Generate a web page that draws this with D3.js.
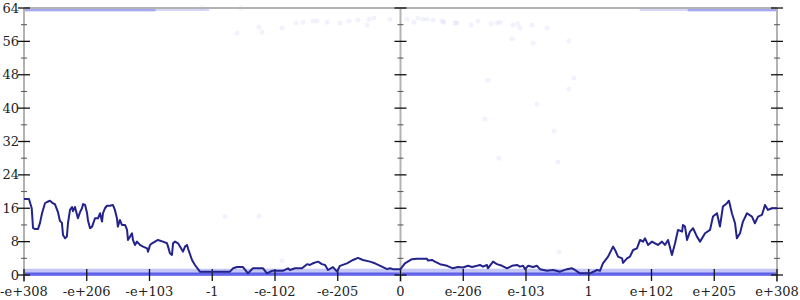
<!DOCTYPE html>
<html>
<head>
<meta charset="utf-8">
<script src="https://cdn.jsdelivr.net/npm/d3@7/dist/d3.min.js"></script>
<style>
  body { margin: 0; background: #fff; }
  text { font-family: "DejaVu Serif", serif; font-size: 13px; fill: #222; }
</style>
</head>
<body>
<div id="chart-area"></div>
<script>
// x is the signed exponent order of a double: -2046 .. 0 .. 2046
var tickValues = [-2046, -1705, -1364, -1023, -682, -341, 0, 341, 682, 1023, 1364, 1705, 2046];
var tickLabels = ["-e+308", "-e+206", "-e+103", "-1", "-e-102", "-e-205", "0",
                  "e-206", "e-103", "1", "e+102", "e+205", "e+308"];
var yTicks = [0, 8, 16, 24, 32, 40, 48, 56, 64];
var yMinor = [4, 12, 20, 28, 36, 44, 52, 60];

// smoothed line
var lineX = [-2046,-2019,-2004,-1997,-1986,-1970,-1959,-1948,-1932,-1921,-1905,-1889,-1878,-1861,-1851,-1840,
  -1834,-1823,-1813,-1807,-1796,-1785,-1780,-1769,-1753,-1742,-1731,-1725,-1714,-1704,-1698,-1687,-1676,-1660,
  -1644,-1633,-1622,-1617,-1606,-1595,-1579,-1563,-1552,-1541,-1536,-1525,-1514,-1497,-1486,-1481,-1459,-1454,
  -1443,-1432,-1416,-1399,-1377,-1372,-1361,-1350,-1334,-1318,-1291,-1269,-1263,-1253,-1242,-1236,-1225,-1209,
  -1187,-1182,-1171,-1160,-1155,-1133,-1117,-1090,-1035,-927,-910,-888,-856,-829,-802,-747,-726,-698,-639,-611,
  -601,-573,-535,-508,-492,-476,-448,-427,-410,-394,-367,-345,-329,-291,-258,-231,-204,-166,-139,-101,-73,-57,
  -41,0,24,62,90,144,149,171,187,215,253,285,312,340,367,389,416,432,448,470,475,503,524,552,579,606,633,649,
  666,677,693,720,742,758,796,829,867,905,932,948,975,1030,1068,1084,1100,1128,1155,1166,1182,1204,1209,1231,
  1247,1264,1285,1302,1318,1329,1345,1367,1383,1399,1421,1437,1454,1475,1492,1508,1530,1535,1546,1557,1573,
  1590,1611,1628,1655,1682,1698,1720,1736,1752,1774,1785,1801,1818,1828,1845,1861,1883,1910,1926,1943,1964,
  1981,1997,2019,2046];
var lineY = [18.2,18.2,16,11.3,11,11,12.5,14.8,17.2,17.5,17.8,17.2,17,15,13,12.5,
  9.6,8.8,9.2,12.4,15.6,16.3,15.3,16.3,13.6,15,16,17,16.8,15,13,11.2,11.6,13.6,
  13.6,14.8,12.8,14.8,16,16.6,16.6,16.8,15.6,13.6,11.6,13.2,12,12,10.8,8.4,10,8.4,
  7.2,8,7.2,6.8,6.4,5.6,7.2,7.6,8,8.4,8,7.6,6.8,5.2,4.8,7.6,8,7.6,
  6,5.6,6.8,7.2,6.4,3.6,2.4,0.8,0.8,0.8,1.6,1.9,1.9,0.4,1.6,1.6,0.4,1.0,1.0,1.6,
  1.2,1.6,1.6,2.6,2.4,2.8,3.2,2.6,2.4,1.2,1.9,0.8,2.2,2.8,3.6,4.1,3.6,3.2,2.8,2.0,1.4,1.6,
  1.4,1.4,2.8,3.8,3.9,3.9,3.5,3.6,3.2,2.6,2.2,1.6,1.9,1.8,2.2,1.9,2.2,2.4,2.0,2.4,1.6,3.2,2.6,2.2,1.6,2.2,2.4,2.0,
  2.2,1.4,2.2,1.9,2.2,1.4,1.0,1.2,0.8,1.4,1.6,1.2,0.4,0.4,1.2,1.0,2.8,4.4,6.8,6.0,4.4,4.0,2.9,4.0,
  4.4,6.0,6.4,8.4,8,8.8,7.2,8,7.6,7.2,8,7.2,8.4,4.8,7.6,10.8,10.4,12,11.6,8.4,10.4,
  11.2,9.2,8,10,10.8,14,14.8,11.6,16.4,17.2,17.8,14.8,12.4,8.8,10,12.8,14.8,14,12.4,14,14.4,
  16.8,15.6,16,16];

// sparse individual samples
var dotX = [-1079,-867,-888,-769,-753,-644,-568,-530,-475,-454,-399,-329,-280,-231,-182,-171,-144,-57,
  35,73,95,122,144,177,226,236,296,307,383,421,492,524,541,611,638,649,715,796,606,720,916,475,943,916,
  742,459,834,535,856,-954,-769,-644,861];
var dotY = [64,64,58,59.4,58.2,59.2,60.4,60.6,60.9,60.9,60.6,60.4,60.9,61.1,59.9,61.3,61.6,61.3,
  61.3,60.6,61.6,61.3,61.3,61.1,60.9,60.6,60.4,60.4,59.9,60.9,60.2,60.4,60.6,59.9,60.2,59.2,59.9,59.2,
  56.6,55.6,56.1,46.7,47.2,44.6,41,37.4,34.5,28,27.1,14.1,14.1,3.4,5.5];

// dense sample bands (x range, value range)
var bandFrom = [-2046, -2046, -2046, -1330, 1300, 1560];
var bandTo   = [2046, 2046, -1330, -1040, 1560, 2046];
var bandLo   = [0.2, -0.2, 63.2, 63.3, 63.3, 63.2];
var bandHi   = [1.5, 0.6, 64, 64, 64, 64];

var svg = d3.select("#chart-area").append("svg")
  .attr("width", 800).attr("height", 300);

var x = d3.scaleLinear().domain([-2046, 2046]).range([24, 777]);
var y = d3.scaleLinear().domain([0, 64]).range([275, 8]);

// bands
var bandColor = ["#b4b8f4", "#4b4be6", "#8f93f0", "#b8bbf5", "#b8bbf5", "#8f93f0"];
var bandOp = [0.8, 0.85, 0.8, 0.6, 0.6, 0.8];
svg.selectAll("rect.band").data(bandFrom).enter().append("rect")
  .attr("class", "band")
  .attr("x", (d, i) => x(d))
  .attr("width", (d, i) => x(bandTo[i]) - x(d))
  .attr("y", (d, i) => y(bandHi[i]))
  .attr("height", (d, i) => y(bandLo[i]) - y(bandHi[i]))
  .attr("fill", (d, i) => bandColor[i])
  .attr("opacity", (d, i) => bandOp[i]);

// faint dots
svg.selectAll("circle").data(dotX).enter().append("circle")
  .attr("cx", d => x(d))
  .attr("cy", (d, i) => y(dotY[i]))
  .attr("r", 2.5)
  .attr("fill", "#5555ee")
  .attr("opacity", 0.08);

// axes lines
var gray = "#b3b3b3";
svg.append("line").attr("x1", x(-2046)).attr("x2", x(2046))
  .attr("y1", y(64)).attr("y2", y(64)).attr("stroke", gray).attr("stroke-width", 2);
[-2046, 0, 2046].forEach(v => {
  svg.append("line").attr("x1", x(v)).attr("x2", x(v))
    .attr("y1", y(64)).attr("y2", 282).attr("stroke", gray).attr("stroke-width", 2);
  svg.selectAll(null).data(yTicks).enter().append("line")
    .attr("x1", x(v) - 6).attr("x2", x(v) + 6)
    .attr("y1", d => y(d)).attr("y2", d => y(d))
    .attr("stroke", "#111").attr("stroke-width", 1.3);
  svg.selectAll(null).data(yMinor).enter().append("line")
    .attr("x1", x(v) - 3).attr("x2", x(v) + 3)
    .attr("y1", d => y(d)).attr("y2", d => y(d))
    .attr("stroke", "#555").attr("stroke-width", 1);
});

// y labels
svg.selectAll("text.ylab").data(yTicks).enter().append("text")
  .attr("class", "ylab")
  .attr("x", 19).attr("y", d => y(d)).attr("dy", "0.35em")
  .attr("text-anchor", "end")
  .text(d => d);

// x ticks + labels
svg.selectAll("line.xt").data(tickValues).enter().append("line")
  .attr("class", "xt")
  .attr("x1", d => x(d)).attr("x2", d => x(d))
  .attr("y1", 269).attr("y2", 281)
  .attr("stroke", "#111").attr("stroke-width", 1.3);
svg.selectAll("text.xlab").data(tickValues).enter().append("text")
  .attr("class", "xlab")
  .attr("x", d => x(d)).attr("y", 296)
  .attr("text-anchor", "middle")
  .text((d, i) => tickLabels[i]);

// smoothed line
var line = d3.line().x(d => x(d)).y((d, i) => y(lineY[i]));
svg.append("path").datum(lineX)
  .attr("d", line)
  .attr("fill", "none")
  .attr("stroke", "#23238c")
  .attr("stroke-width", 2)
  .attr("stroke-linejoin", "round");
</script>
</body>
</html>
